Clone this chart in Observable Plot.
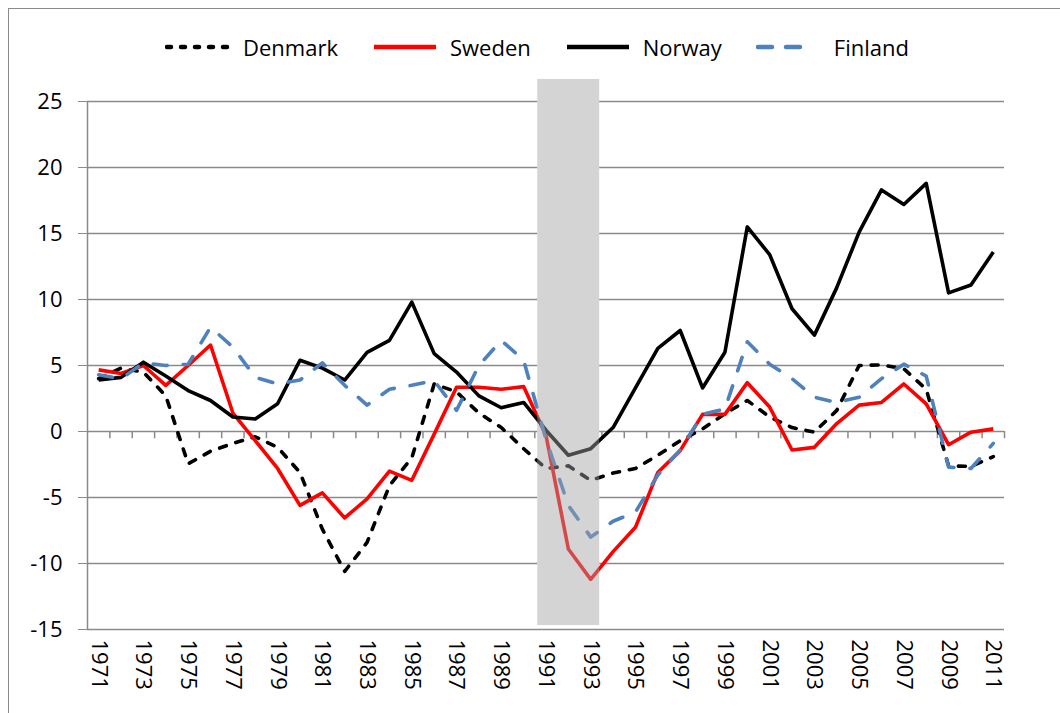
<!DOCTYPE html>
<html><head><meta charset="utf-8">
<script src="https://cdn.jsdelivr.net/npm/d3@7"></script>
<script src="https://cdn.jsdelivr.net/npm/@observablehq/plot@0.6"></script>
<style>
body{margin:0;background:#fff;font-family:"Open Sans",sans-serif;}
#frame{position:absolute;left:8px;top:8px;width:1100px;height:800px;border-left:1.5px solid #8a8a8a;border-top:1.5px solid #8a8a8a;}
#legend{position:absolute;left:165px;top:30px;height:34px;display:flex;align-items:center;gap:34px;font-size:22px;color:#000;}
.item{display:flex;align-items:center}
.item span{margin-left:8px;line-height:34px}
#chart{position:absolute;left:0;top:60px}
</style></head>
<body>
<div id="frame"></div>
<div id="legend"></div>
<div id="chart"></div>
<script>
const years = [1971,1972,1973,1974,1975,1976,1977,1978,1979,1980,1981,1982,1983,1984,1985,1986,1987,1988,1989,1990,1991,1992,1993,1994,1995,1996,1997,1998,1999,2000,2001,2002,2003,2004,2005,2006,2007,2008,2009,2010,2011];
const denmark = [4.0,4.8,4.5,2.7,-2.45,-1.5,-0.9,-0.4,-1.2,-3.1,-7.4,-10.6,-8.4,-4.1,-2.0,3.6,3.0,1.4,0.3,-1.3,-2.8,-2.6,-3.7,-3.15,-2.8,-1.8,-0.7,0.2,1.35,2.35,1.1,0.3,-0.05,1.6,5.0,5.05,4.75,3.2,-2.6,-2.65,-1.9];
const sweden = [4.67,4.4,5.0,3.5,5.0,6.55,1.4,-0.7,-2.8,-5.6,-4.65,-6.55,-5.1,-3.0,-3.7,-0.2,3.35,3.35,3.2,3.4,-0.3,-8.9,-11.2,-9.1,-7.25,-3.1,-1.45,1.3,1.3,3.7,1.85,-1.4,-1.2,0.6,2.0,2.2,3.6,2.1,-1.0,-0.05,0.2];
const norway = [3.9,4.1,5.25,4.2,3.1,2.35,1.1,0.95,2.1,5.4,4.8,3.9,6.0,6.9,9.8,5.9,4.5,2.7,1.8,2.2,0.1,-1.8,-1.3,0.3,3.3,6.3,7.65,3.3,6.0,15.5,13.4,9.3,7.3,10.9,15.1,18.3,17.2,18.8,10.5,11.1,13.6];
const finland = [4.3,4.0,5.2,5.0,5.1,7.9,6.4,4.1,3.6,3.9,5.2,3.5,2.0,3.2,3.5,3.85,1.6,5.0,6.9,5.4,-0.6,-5.6,-8.0,-6.8,-6.1,-3.3,-1.4,1.3,1.7,6.8,5.1,4.0,2.6,2.2,2.6,4.0,5.1,4.2,-2.7,-2.8,-0.9];
const seriesNames = ["Denmark","Sweden","Norway","Finland"];
const yTicks = [-15,-10,-5,0,5,10,15,20,25];
const xLabels = [1971,1973,1975,1977,1979,1981,1983,1985,1987,1989,1991,1993,1995,1997,1999,2001,2003,2005,2007,2009,2011];
const shade = [{x1:1990.63, x2:1993.4, y1:-14.7, y2:26.67}];

const styles = {
  Denmark:{stroke:"#000000", dash:"7,10", values:denmark, legDash:"4,10", legLen:72},
  Sweden:{stroke:"#ff0000", dash:null, values:sweden, legLen:66},
  Norway:{stroke:"#000000", dash:null, values:norway, legLen:66},
  Finland:{stroke:"#4f81bd", dash:"14,16", values:finland, legDash:"14,14", legLen:47}
};

const gray = "#8a8a8a";
const boundaries = years.map(y => y + 0.5);
const lineMarks = seriesNames.map(name => {
  const s = styles[name];
  const rows = years.map((yr, i) => ({year: yr, value: s.values[i]}));
  return Plot.line(rows, {x:"year", y:"value", stroke:s.stroke, strokeWidth:3.6,
    strokeDasharray: s.dash || undefined, strokeLinecap: s.dash ? "round" : "butt", strokeLinejoin:"round"});
});

const chart = Plot.plot({
  width:1060, height:653,
  marginLeft:87, marginRight:56, marginTop:41, marginBottom:84,
  style:{fontFamily:"'Open Sans',sans-serif", fontSize:"22px", color:"#000", background:"transparent", overflow:"visible"},
  x:{type:"linear", domain:[1970.5, 2011.5]},
  y:{domain:[-15,25]},
  marks:[
    Plot.ruleY(yTicks, {stroke:gray, strokeWidth:1.5}),
    Plot.ruleX([years[0]-0.5], {y1:-15, y2:25, stroke:gray, strokeWidth:1.5}),
    Plot.ruleX(boundaries, {y1:0, y2:-0.55, stroke:gray, strokeWidth:1.5}),
    Plot.rect(shade, {x1:"x1", x2:"x2", y1:"y1", y2:"y2", fill:"#ffffff"}),
    ...lineMarks,
    Plot.rect(shade, {x1:"x1", x2:"x2", y1:"y1", y2:"y2", fill:"#a1a1a1", fillOpacity:0.46}),
    Plot.axisY({ticks:yTicks, tickSize:9, tickPadding:16, stroke:gray, fill:"#000", tickFormat:d=>String(d), fontSize:22}),
    Plot.axisX({ticks:xLabels, tickSize:0, tickPadding:10, tickRotate:90, fill:"#000", tickFormat:d=>String(d), fontSize:22})
  ]
});
document.getElementById("chart").appendChild(chart);

// legend
const leg = document.getElementById("legend");
seriesNames.forEach(name => {
  const s = styles[name];
  const item = document.createElement("div");
  item.className = "item";
  const ns = "http://www.w3.org/2000/svg";
  const svg = document.createElementNS(ns, "svg");
  svg.setAttribute("width", 70); svg.setAttribute("height", 20);
  const ln = document.createElementNS(ns, "line");
  ln.setAttribute("x1", 2); ln.setAttribute("x2", s.legLen - 2);
  ln.setAttribute("y1", 10); ln.setAttribute("y2", 10);
  ln.setAttribute("stroke", s.stroke); ln.setAttribute("stroke-width", 4.5);
  if (s.legDash) { ln.setAttribute("stroke-dasharray", s.legDash); ln.setAttribute("stroke-linecap", "round"); }
  svg.appendChild(ln);
  const t = document.createElement("span");
  t.textContent = name;
  item.appendChild(svg); item.appendChild(t);
  leg.appendChild(item);
});
</script>
</body></html>
